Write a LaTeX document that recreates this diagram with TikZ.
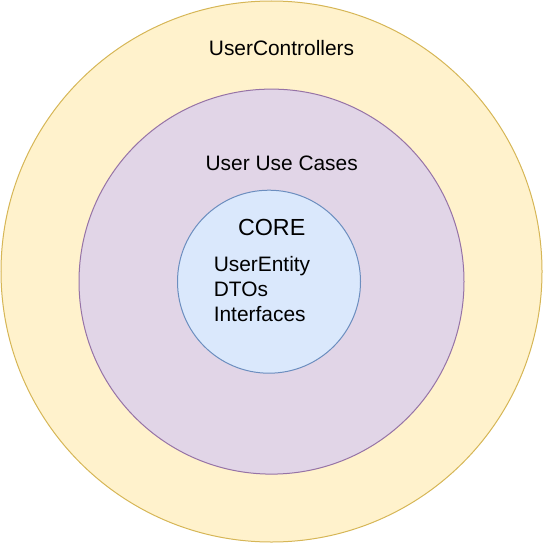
\documentclass[tikz,border=0pt]{standalone}
\usepackage{fontspec}
\setmainfont{Liberation Sans}
\usepackage{tikz}

\definecolor{ctrlfill}{HTML}{FFF2CC}
\definecolor{ctrldraw}{HTML}{D6B656}
\definecolor{casefill}{HTML}{E1D5E7}
\definecolor{casedraw}{HTML}{9673A6}
\definecolor{corefill}{HTML}{DAE8FC}
\definecolor{coredraw}{HTML}{6C8EBF}

\begin{document}
\begin{tikzpicture}[x=1pt, y=-1pt, line width=1pt,
	ring/.style={circle, inner sep=0pt, outer sep=0pt},
	label/.style={inner sep=0pt, anchor=base, font=\fontsize{20.9}{25.5}\selectfont},
	entry/.style={inner sep=0pt, anchor=base west, font=\fontsize{20.9}{25.5}\selectfont}]
		\useasboundingbox (0,0) rectangle (543,543);
		\node[ring, draw=ctrldraw, fill=ctrlfill, minimum size=541pt] (controllers) at (271.5,271.5) {};
		\node[ring, draw=casedraw, fill=casefill, minimum size=385pt] (usecases) at (271.5,281.6) {};
		\node[ring, draw=coredraw, fill=corefill, minimum size=183pt] (core) at (269,281.7) {};
		\node[label] (ctrltitle) at (281.5,55.7) {UserControllers};
		\node[label] (casetitle) at (281.7,170.7) {User Use Cases};
		\node[label, font=\fontsize{23.3}{28}\selectfont] (coretitle) at (271.7,235) {CORE};
		\node[entry] (entity) at (213.3,271) {UserEntity};
		\node[entry] (dtos) at (213.3,296.6) {DTOs};
		\node[entry] (interfaces) at (213.3,321.7) {Interfaces};

	\end{tikzpicture}
\end{document}
